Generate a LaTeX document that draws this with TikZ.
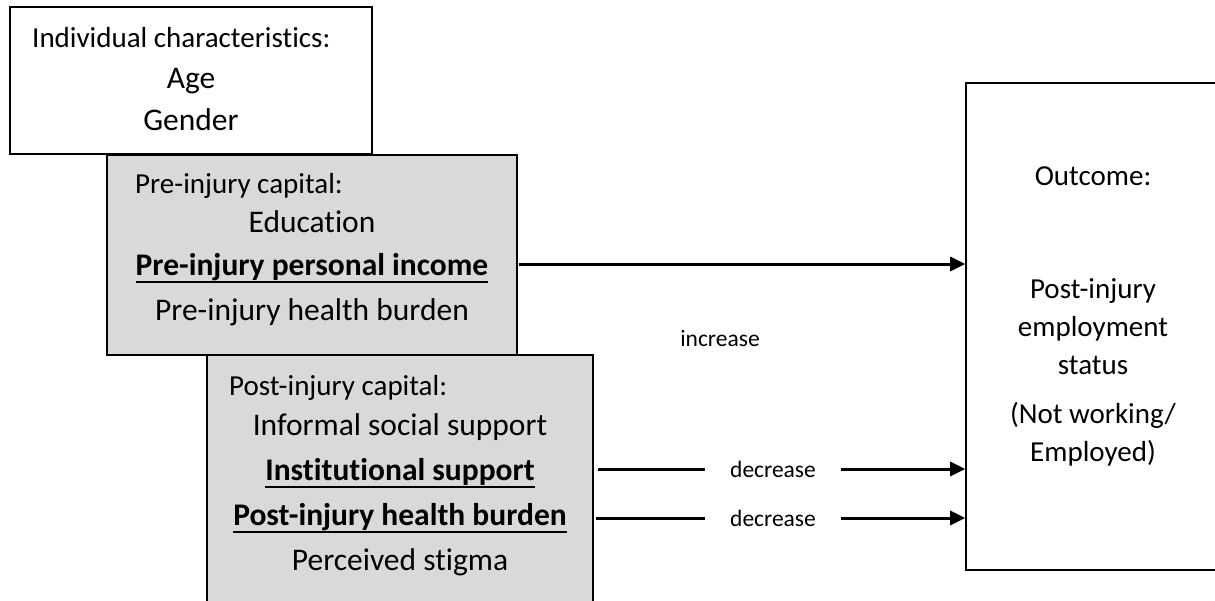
\documentclass[tikz,border=0pt]{standalone}
\usepackage{fontspec}
\setmainfont{Carlito}[Ligatures=NoCommon]
\usetikzlibrary{arrows.meta}
\usetikzlibrary{positioning}

\definecolor{boxgray}{HTML}{D9D9D9}

% bold text with a heavy underline
\newcommand{\ulbold}[1]{\begingroup\setbox0\hbox{\bfseries #1}%
  \rlap{\copy0}\rule[-\dimexpr\dp0+3pt\relax]{\wd0}{2.4pt}\endgroup}

\tikzset{
  plainbox/.style={draw,line width=1.6pt,fill=white,inner sep=0pt},
  capbox/.style={plainbox,fill=boxgray},
  headtext/.style={anchor=base west,inner sep=0pt,font=\fontsize{29}{34}\selectfont},
  itemtext/.style={anchor=base,inner sep=0pt,font=\fontsize{31.5}{36}\selectfont},
  outtext/.style={anchor=base,inner sep=0pt,font=\fontsize{29}{34}\selectfont},
  effect/.style={inner xsep=25pt,inner ysep=0pt,font=\fontsize{23.5}{28}\selectfont},
  path arrow/.style={line width=3pt,-{Triangle[length=15pt,width=14pt]}}
}

\begin{document}
\begin{tikzpicture}[x=1pt,y=-1pt]
  \useasboundingbox (0,0) rectangle (1215,600);
  \clip (0,0) rectangle (1215,600);

  % boxes
  \node[plainbox,minimum width=362pt,minimum height=147pt] (indiv) at (191,80.5) {};
  \node[capbox,minimum width=410pt,minimum height=200pt] (pre) at (312,255) {};
  \node[capbox,minimum width=386pt,minimum height=260pt] (post) at (400,485) {};
  \node[plainbox,minimum width=258pt,minimum height=487pt] (outcome) at (1095,326.5) {};

  % individual characteristics
  \node[headtext] (indivhead) at (32,47) {Individual characteristics:};
  \node[itemtext] (age) at (191,88) {Age};
  \node[itemtext] (gender) at (191,130) {Gender};

  % pre-injury capital
  \node[headtext] (prehead) at (135,193) {Pre-injury capital:};
  \node[itemtext] (educ) at (312,232) {Education};
  \node[itemtext] (income) at (312,275) {\ulbold{Pre-injury personal income}};
  \node[itemtext] (prehealth) at (312,320) {Pre-injury health burden};

  % post-injury capital
  \node[headtext] (posthead) at (229,395) {Post-injury capital:};
  \node[itemtext] (informal) at (400,435) {Informal social support};
  \node[itemtext] (instit) at (400,480) {\ulbold{Institutional support}};
  \node[itemtext] (posthealth) at (400,525) {\ulbold{Post-injury health burden}};
  \node[itemtext] (stigma) at (400,570) {Perceived stigma};

  % outcome
  \node[outtext] (outhead) at (1093,185) {Outcome:};
  \node[outtext] (out1) at (1093,298) {Post-injury};
  \node[outtext] (out2) at (1093,336) {employment};
  \node[outtext] (out3) at (1093,374) {status};
  \node[outtext] (out4) at (1093,423) {(Not working/};
  \node[outtext] (out5) at (1093,461) {Employed)};

  % effects
  \coordinate (incy) at (0,264);
  \draw[path arrow] ([xshift=1pt]pre.east |- incy) -- (outcome.west |- incy);
  \node[effect] (inc) at (720,338) {increase};

  \node[effect] (dec1) at (773,469) {decrease};
  \node[effect] (dec2) at (773,518) {decrease};
  \draw[line width=3pt] ([xshift=4pt]post.east |- dec1) -- (dec1.west);
  \draw[path arrow] (dec1.east) -- (outcome.west |- dec1);
  \draw[line width=3pt] ([xshift=2pt]post.east |- dec2) -- (dec2.west);
  \draw[path arrow] (dec2.east) -- (outcome.west |- dec2);
\end{tikzpicture}
\end{document}
